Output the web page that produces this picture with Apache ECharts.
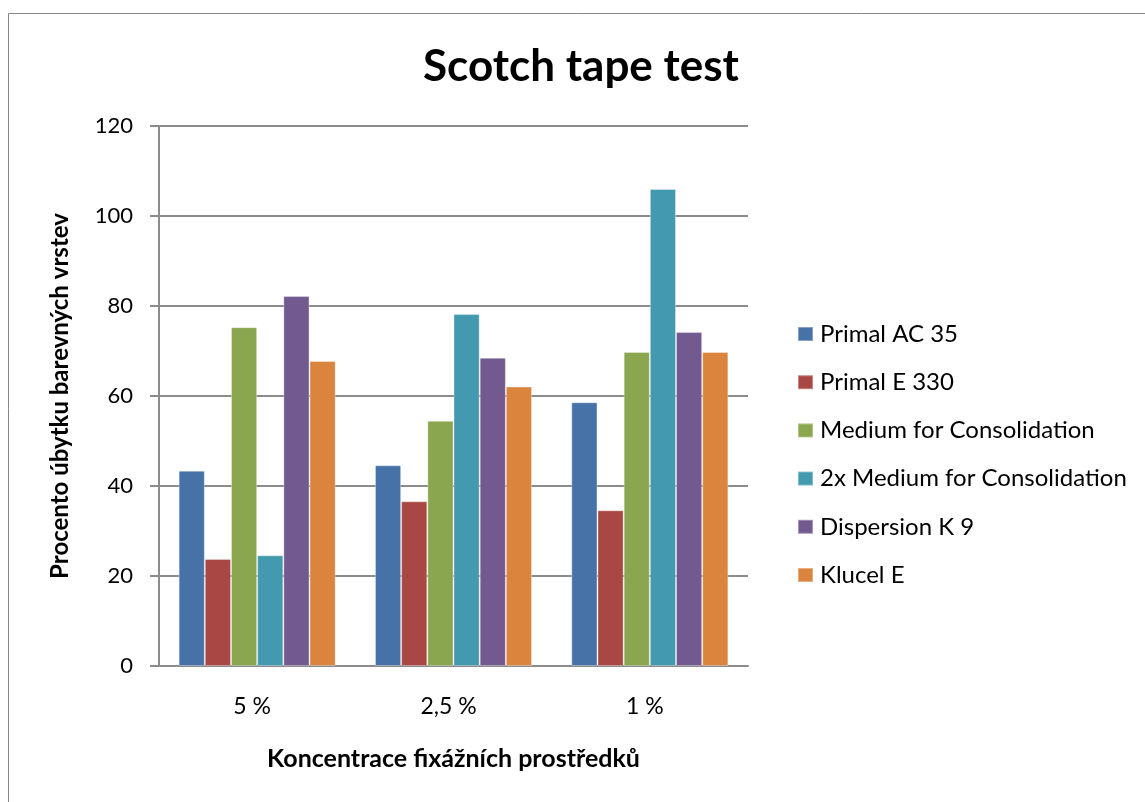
<!DOCTYPE html>
<html>
<head>
<meta charset="utf-8">
<script src="https://cdn.jsdelivr.net/npm/echarts@6/dist/echarts.min.js"></script>
<style>
  html, body { margin: 0; padding: 0; background: #fff; }
  #chart { width: 1145px; height: 802px; }
</style>
</head>
<body>
<div id="chart"></div>
<script>
// categories and series values
const categories = ['5 %', '2,5 %', '1 %']
const seriesNames = ['Primal AC 35', 'Primal E 330', 'Medium for Consolidation', '2x Medium for Consolidation', 'Dispersion K 9', 'Klucel E']
const primalAC35 = [43.4, 44.6, 58.6]
const primalE330 = [23.8, 36.6, 34.6]
const mediumCons = [75.3, 54.5, 69.8]
const mediumCons2x = [24.6, 78.2, 106]
const dispersionK9 = [82.2, 68.5, 74.2]
const klucelE = [67.8, 62.1, 69.8]
const colors = ['#4672a8', '#a94744', '#8aa64f', '#4399b0', '#725990', '#db843e']

const FONT = 'Lato'
const values = [primalAC35, primalE330, mediumCons, mediumCons2x, dispersionK9, klucelE]

const chart = echarts.init(document.getElementById('chart'))
chart.setOption({
  animation: false,
  color: colors,
  textStyle: { fontFamily: FONT },
  title: {
    text: 'Scotch tape test',
    left: 576,
    textAlign: 'center',
    top: 40,
    textStyle: { fontFamily: FONT, fontSize: 44, fontWeight: 'bold', color: '#000' }
  },
  graphic: [{
    type: 'rect',
    shape: { x: 8.5, y: 13.5, width: 1200, height: 900 },
    style: { fill: 'none', stroke: '#868686', lineWidth: 1 },
    silent: true
  }],
  legend: {
    orient: 'vertical',
    left: 792,
    top: 317,
    itemWidth: 15,
    itemHeight: 14,
    itemGap: 24.2,
    icon: 'rect',
    data: seriesNames,
    textStyle: { fontFamily: FONT, fontSize: 24, color: '#000', lineHeight: 24, padding: [0, 0, 0, 2] }
  },
  grid: {
    left: 159,
    right: 397,
    top: 126,
    bottom: 136
  },
  xAxis: {
    type: 'category',
    data: categories,
    name: 'Koncentrace fixážních prostředků',
    nameLocation: 'middle',
    nameGap: 80,
    nameTextStyle: { fontFamily: FONT, fontSize: 25, fontWeight: 'bold', color: '#000' },
    axisLine: { lineStyle: { color: '#8c8c8c', width: 2 } },
    axisTick: { show: false },
    axisLabel: { fontFamily: FONT, fontSize: 23, color: '#000', margin: 29, padding: [0, 10, 0, 0] }
  },
  yAxis: {
    type: 'value',
    min: 0,
    max: 120,
    interval: 20,
    name: 'Procento úbytku barevných vrstev',
    nameLocation: 'middle',
    nameGap: 87,
    nameTextStyle: { fontFamily: FONT, fontSize: 24, fontWeight: 'bold', color: '#000' },
    axisLine: { show: true, lineStyle: { color: '#8c8c8c', width: 2 } },
    axisTick: { show: true, length: 9, lineStyle: { color: '#8c8c8c', width: 2 } },
    splitLine: { lineStyle: { color: '#8c8c8c', width: 2 } },
    axisLabel: { fontFamily: FONT, fontSize: 22, color: '#000', margin: 26 }
  },
  series: seriesNames.map((name, i) => ({
    name: name,
    type: 'bar',
    data: values[i],
    barGap: '0%',
    barCategoryGap: '20%',
    itemStyle: { borderColor: 'rgba(255,255,255,0.35)', borderWidth: 1 }
  }))
})
</script>
</body>
</html>
